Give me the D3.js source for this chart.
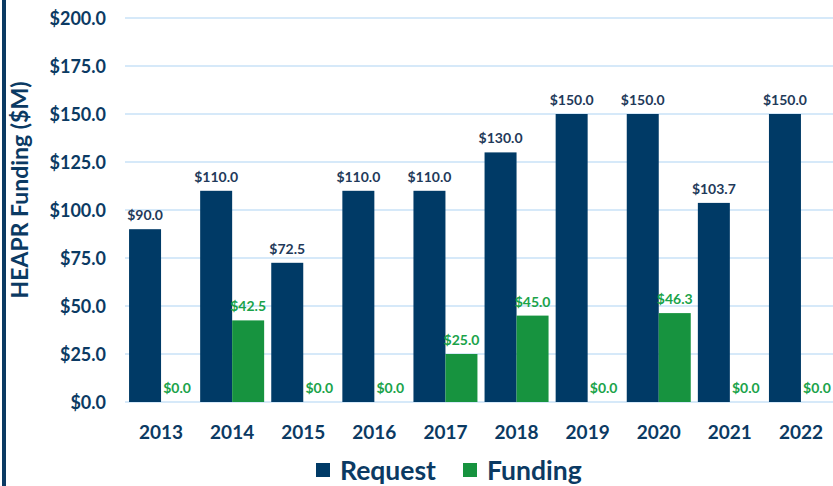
<!DOCTYPE html>
<html><head><meta charset="utf-8">
<script src="https://cdn.jsdelivr.net/npm/d3@7"></script>
<style>body{margin:0;background:#fff;}svg{display:block;font-family:"Lato","Open Sans",sans-serif;}</style>
</head><body><svg id="c" width="833" height="486"></svg>
<script>
const years = ["2013","2014","2015","2016","2017","2018","2019","2020","2021","2022"];
const request = [90.0,110.0,72.5,110.0,110.0,130.0,150.0,150.0,103.7,150.0];
const funding = [0.0,42.5,0.0,0.0,25.0,45.0,0.0,46.3,0.0,0.0];
const yTicks = [0,25,50,75,100,125,150,175,200];
const seriesNames = ["Request","Funding"];
const colors = ["#003A66","#17933F"];
const labelColors = ["#1F3A5A","#1AA34A"];
const navy = "#0B3A63";

const svg = d3.select("#c");
const x = d3.scaleBand().domain(years).range([125.5,836.5]).paddingInner(0.1).paddingOuter(0.05);
const y = d3.scaleLinear().domain([0,200]).range([402,18]);
const sub = d3.scaleBand().domain(seriesNames).range([0,x.bandwidth()]);

// left decorative bar
svg.append("rect").attr("x",2).attr("y",0).attr("width",4).attr("height",486).attr("fill",navy);

// gridlines
svg.append("g").selectAll("line").data(yTicks).join("line")
  .attr("x1",125).attr("x2",833).attr("y1",d=>y(d)).attr("y2",d=>y(d))
  .attr("stroke","#C9E2F7").attr("stroke-width",1.5);

// y axis labels
const yAxis = d3.axisLeft(y).tickValues(yTicks).tickSize(0).tickPadding(0).tickFormat(d=>"$"+d.toFixed(1));
const gy = svg.append("g").attr("transform","translate(106,0)").call(yAxis);
gy.select(".domain").remove();
gy.selectAll("text").attr("fill",navy).attr("font-size","18px").attr("font-weight","bold").attr("font-family","Lato, sans-serif").attr("dy","0.35em");

// x axis labels
const xAxis = d3.axisBottom(x).tickSize(0).tickPadding(0);
const gx = svg.append("g").attr("transform","translate(0,432)").call(xAxis);
gx.select(".domain").remove();
gx.selectAll("text").attr("fill",navy).attr("font-size","19px").attr("font-weight","bold").attr("font-family","Lato, sans-serif").attr("dy","0.35em");

// bars
const series = [request, funding];
series.forEach((vals,si)=>{
  const g = svg.append("g");
  g.selectAll("rect").data(vals).join("rect")
    .attr("x",(d,i)=>x(years[i])+sub(seriesNames[si]))
    .attr("y",d=>y(d)).attr("width",sub.bandwidth()).attr("height",d=>y(0)-y(d))
    .attr("fill",colors[si]);
  g.selectAll("text").data(vals).join("text")
    .attr("x",(d,i)=>x(years[i])+sub(seriesNames[si])+sub.bandwidth()/2)
    .attr("y",d=>y(d)-9)
    .attr("text-anchor","middle").attr("font-size","14px").attr("font-weight","bold")
    .attr("fill",labelColors[si]).text(d=>"$"+d.toFixed(1));
});

// y title
svg.append("text").attr("transform","translate(28,190) rotate(-90)")
  .attr("text-anchor","middle").attr("font-size","23px").attr("font-weight","bold")
  .attr("fill",navy).text("HEAPR Funding ($M)");

// legend
const leg = svg.append("g").attr("transform","translate(316,470)");
const legX = [0,147];
seriesNames.forEach((n,i)=>{
  leg.append("rect").attr("x",legX[i]).attr("y",-7).attr("width",14).attr("height",14).attr("fill",colors[i]);
  leg.append("text").attr("x",legX[i]+24).attr("y",0).attr("dy","0.36em")
    .attr("font-size","26.5px").attr("font-weight","bold").attr("fill",navy).text(n);
});
</script></body></html>
